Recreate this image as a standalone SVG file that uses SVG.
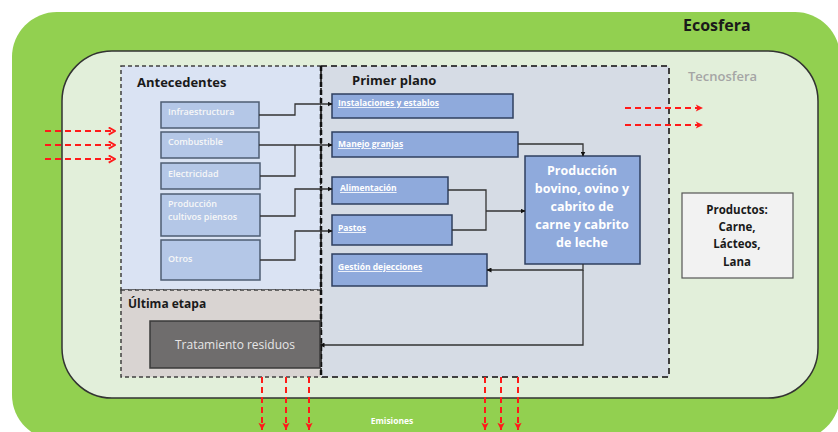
<svg xmlns="http://www.w3.org/2000/svg" width="838" height="432" viewBox="0 0 838 432">
<style>
text{font-family:"Open Sans","Liberation Sans",sans-serif}
.title{font-weight:bold;fill:#1a1a1a}
.abox{fill:#b4c7e7;stroke:#4e5d73;stroke-width:1.5}
.pbox{fill:#8faadc;stroke:#2f3f5f;stroke-width:1.5}
.at{font-size:9px;fill:#f7f7f7;font-weight:600}
.pt{font-size:8.5px;fill:#ffffff;font-weight:bold;text-decoration:underline}
.conn{fill:none;stroke:#333;stroke-width:1.3}
.red{fill:none;stroke:#ff1a1a;stroke-width:2;stroke-dasharray:6 4}
</style>
<defs>
<marker id="ah" viewBox="0 0 10 10" refX="9" refY="5" markerWidth="5" markerHeight="5" orient="auto" markerUnits="userSpaceOnUse"><path d="M0,0 L10,5 L0,10 z" fill="#111"/></marker>
<marker id="rch" viewBox="0 0 10 10" refX="9" refY="5" markerWidth="9" markerHeight="9" orient="auto" markerUnits="userSpaceOnUse"><path d="M2,1 L9,5 L2,9" fill="none" stroke="#ff1a1a" stroke-width="2"/></marker>
<marker id="rtri" viewBox="0 0 10 10" refX="9" refY="5" markerWidth="9" markerHeight="9" orient="auto" markerUnits="userSpaceOnUse"><path d="M1,1 L9,5 L1,9 L3,5 z" fill="#ff1a1a"/></marker>
</defs>
<rect width="838" height="432" fill="#ffffff"/>
<g id="ecosfera">
<rect x="12" y="12" width="828" height="428" rx="45" fill="#92d050"/>
<text x="683" y="31" class="title" font-size="16">Ecosfera</text>
</g>
<g id="tecnosfera">
<rect x="62" y="51" width="756" height="347" rx="50" fill="#e2efda" stroke="#333" stroke-width="1.5"/>
<text x="688" y="81" font-size="13" fill="#a5a5a5" font-weight="600">Tecnosfera</text>
</g>
<g id="antecedentes">
<rect x="121" y="66" width="200" height="224" fill="#dae3f3" stroke="#404040" stroke-width="1.5" stroke-dasharray="4 3"/>
<text x="137" y="87" class="title" font-size="13">Antecedentes</text>
</g>
<g id="ultima-etapa">
<rect x="121" y="290" width="202" height="87" fill="#d9d4d2" stroke="#404040" stroke-width="1.5" stroke-dasharray="4 3"/>
<text x="128" y="308" class="title" font-size="12">Última etapa</text>
</g>
<g id="primer-plano">
<rect x="321" y="66" width="348" height="311" fill="#d6dce5" stroke="#404040" stroke-width="2" stroke-dasharray="6 4"/>
<line x1="321" y1="66" x2="321" y2="377" stroke="#111" stroke-width="2.5" stroke-dasharray="5 3"/>
<text x="352" y="85" class="title" font-size="13">Primer plano</text>
</g>
<g id="infraestructura"><rect class="abox" x="161" y="102" width="98" height="26"/><text class="at" x="168" y="115">Infraestructura</text></g>
<g id="combustible"><rect class="abox" x="161" y="132" width="98" height="26"/><text class="at" x="168" y="145">Combustible</text></g>
<g id="electricidad"><rect class="abox" x="161" y="163" width="99" height="26"/><text class="at" x="168" y="177">Electricidad</text></g>
<g id="produccion-cultivos"><rect class="abox" x="161" y="194" width="99" height="42"/><text class="at" x="168" y="207">Producción</text><text class="at" x="168" y="220">cultivos piensos</text></g>
<g id="otros"><rect class="abox" x="161" y="240" width="99" height="40"/><text class="at" x="168" y="262">Otros</text></g>
<g id="instalaciones"><rect class="pbox" x="332" y="94" width="181" height="24"/><text class="pt" x="338" y="106">Instalaciones y establos</text></g>
<g id="manejo"><rect class="pbox" x="332" y="132" width="186" height="25"/><text class="pt" x="338" y="147">Manejo  granjas</text></g>
<g id="alimentacion"><rect class="pbox" x="332" y="177" width="116" height="27"/><text class="pt" x="340" y="191">Alimentación</text></g>
<g id="pastos"><rect class="pbox" x="332" y="215" width="120" height="30"/><text class="pt" x="338" y="231">Pastos</text></g>
<g id="gestion"><rect class="pbox" x="332" y="254" width="155" height="32"/><text class="pt" x="338" y="270">Gestión dejecciones</text></g>
<g id="produccion">
<rect x="525" y="156" width="115" height="108" fill="#8faadc" stroke="#2f3f5f" stroke-width="1.5"/>
<g font-size="12.5" font-weight="bold" fill="#ffffff" text-anchor="middle">
<text x="582" y="175">Producción</text>
<text x="582" y="193">bovino, ovino y</text>
<text x="582" y="211">cabrito de</text>
<text x="582" y="229">carne y cabrito</text>
<text x="582" y="247">de leche</text>
</g>
</g>
<g id="tratamiento">
<rect x="150" y="321" width="170" height="47" fill="#6f6d6d" stroke="#3a3a3a" stroke-width="1.5"/>
<text x="235" y="349" font-size="12" fill="#e6e6e6" text-anchor="middle">Tratamiento residuos</text>
</g>
<g id="productos">
<rect x="682" y="193" width="111" height="85" fill="#f2f2f2" stroke="#555" stroke-width="1.2"/>
<g font-size="11.5" font-weight="bold" fill="#1a1a1a" text-anchor="middle">
<text x="737" y="214">Productos:</text>
<text x="737" y="231">Carne,</text>
<text x="737" y="248">Lácteos,</text>
<text x="737" y="266">Lana</text>
</g>
</g>
<g id="emisiones-label"><text x="392" y="424" font-size="8.5" font-weight="bold" fill="#ffffff" text-anchor="middle">Emisiones</text></g>
<g id="connectors">
<path class="conn" d="M259,115 H295 V104 H332" marker-end="url(#ah)"/>
<path class="conn" d="M259,145 H332" marker-end="url(#ah)"/>
<path class="conn" d="M260,176 H295 V145"/>
<path class="conn" d="M260,216 H295 V189 H332" marker-end="url(#ah)"/>
<path class="conn" d="M260,260 H295 V231 H332" marker-end="url(#ah)"/>
<path class="conn" d="M518,144 H583 V156" marker-end="url(#ah)"/>
<path class="conn" d="M448,190 H486 V230 H452"/>
<path class="conn" d="M486,211 H525" marker-end="url(#ah)"/>
<path class="conn" d="M583,264 V270 H487" marker-end="url(#ah)"/>
<path class="conn" d="M583,270 V345 H320" marker-end="url(#ah)"/>
<path class="red" d="M45,131 H115" marker-end="url(#rch)"/>
<path class="red" d="M45,145 H115" marker-end="url(#rch)"/>
<path class="red" d="M45,159 H115" marker-end="url(#rch)"/>
<path class="red" d="M625,108 H703" marker-end="url(#rtri)"/>
<path class="red" d="M625,125 H703" marker-end="url(#rtri)"/>
<path class="red" d="M262,377 V430" marker-end="url(#rtri)"/>
<path class="red" d="M286,377 V430" marker-end="url(#rtri)"/>
<path class="red" d="M309,377 V430" marker-end="url(#rtri)"/>
<path class="red" d="M485,377 V430" marker-end="url(#rtri)"/>
<path class="red" d="M501,377 V430" marker-end="url(#rtri)"/>
<path class="red" d="M518,377 V430" marker-end="url(#rtri)"/>
</g>
</svg>
